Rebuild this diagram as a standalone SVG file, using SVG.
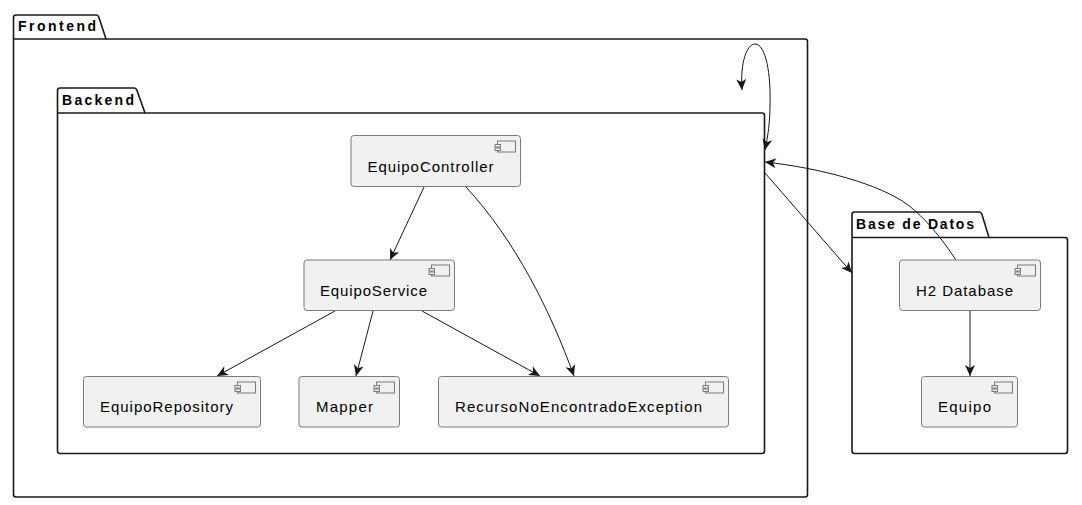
<svg xmlns="http://www.w3.org/2000/svg" width="1082" height="505" viewBox="0 0 1082 505">
<style>
.pkg{fill:#fff;stroke:#181818;stroke-width:1.6}
.pt{font:bold 14px "Liberation Sans",Arial,sans-serif;fill:#000}
.box{fill:#f1f1f1;stroke:#7a7a7a;stroke-width:1}
.ic{fill:#f1f1f1;stroke:#7a7a7a;stroke-width:1}
.t{font:15px "Liberation Sans",Arial,sans-serif;fill:#000}
.c{fill:none;stroke:#181818;stroke-width:1}
</style>
<defs>
<marker id="a" markerUnits="userSpaceOnUse" markerWidth="14" markerHeight="12" refX="11" refY="5" orient="auto" overflow="visible"><path d="M0,0L11,5L0,10L3,5Z" fill="#181818"/></marker>
<g id="i"><rect class="ic" x="-18" y="-4" width="18" height="11"/><rect class="ic" x="-20.500" y="-0.500" width="5.500" height="2.500"/><rect class="ic" x="-20.500" y="3" width="5.500" height="2.500"/></g>
</defs>
<g id="Frontend">
<path class="pkg" d="M13.500,39V17.500Q13.500,15 16,15H96.500Q98,15 98.800,17L106,39H805Q807.500,39 807.500,41.500V494.500Q807.500,497 805,497H16Q13.500,497 13.500,494.500Z"/>
<path class="pkg" d="M13.500,39H106"/>
<text class="pt" x="18" y="31" textLength="78">Frontend</text>
</g>
<g id="Backend">
<path class="pkg" d="M57.500,113V90.500Q57.500,88 60,88H134.500Q136,88 136.800,90L145,113H762Q764.500,113 764.500,115.500V451Q764.500,453.500 762,453.500H60Q57.500,453.500 57.500,451Z"/>
<path class="pkg" d="M57.500,113H145"/>
<text class="pt" x="62" y="105" textLength="72">Backend</text>
</g>
<g id="BaseDeDatos">
<path class="pkg" d="M852,237.500V214.500Q852,212 854.500,212H979.500Q981,212 981.800,214L989,237.500H1065Q1067.500,237.500 1067.500,240V451Q1067.500,453.500 1065,453.500H854.500Q852,453.500 852,451Z"/>
<path class="pkg" d="M852,237.500H989"/>
<text class="pt" x="856" y="229" textLength="118">Base de Datos</text>
</g>
<g id="connectors">
<path class="c" marker-end="url(#a)" d="M424,187L390,260"/>
<path class="c" marker-end="url(#a)" d="M466,187C515,240 550,310 574,376"/>
<path class="c" marker-end="url(#a)" d="M335,311L217,376"/>
<path class="c" marker-end="url(#a)" d="M373,311L356,376"/>
<path class="c" marker-end="url(#a)" d="M422,311L540,376"/>
<path class="c" marker-end="url(#a)" d="M970,311V376"/>
<path class="c" marker-end="url(#a)" d="M765,173L852,273"/>
<path class="c" marker-end="url(#a)" d="M956,260C940,236 925,218 908,205C880,184 820,168 765,162"/>
<path class="c" marker-end="url(#a)" d="M755,44C766,44 771,75 770,105C770,122 768,136 765,150"/>
<path class="c" marker-end="url(#a)" d="M755,44C747,44 740,62 742,90"/>
</g>
<g id="EquipoController"><rect class="box" x="351" y="135.500" width="169.500" height="51" rx="3"/><use href="#i" x="515.500" y="145"/><text class="t" x="367.500" y="172" textLength="126">EquipoController</text></g>
<g id="EquipoService"><rect class="box" x="304" y="260" width="150.500" height="50.500" rx="3"/><use href="#i" x="449.500" y="269"/><text class="t" x="320" y="296" textLength="107">EquipoService</text></g>
<g id="EquipoRepository"><rect class="box" x="83.500" y="376.500" width="177" height="50.500" rx="3"/><use href="#i" x="255.500" y="386"/><text class="t" x="100" y="412" textLength="133">EquipoRepository</text></g>
<g id="Mapper"><rect class="box" x="299" y="376.500" width="100.500" height="50.500" rx="3"/><use href="#i" x="394.500" y="386"/><text class="t" x="316" y="412" textLength="57">Mapper</text></g>
<g id="RecursoNoEncontradoException"><rect class="box" x="438.500" y="376.500" width="290" height="50.500" rx="3"/><use href="#i" x="723.500" y="386"/><text class="t" x="455" y="412" textLength="247">RecursoNoEncontradoException</text></g>
<g id="H2Database"><rect class="box" x="899.500" y="260" width="141" height="50.500" rx="3"/><use href="#i" x="1035.500" y="269"/><text class="t" x="916" y="296" textLength="97">H2 Database</text></g>
<g id="Equipo"><rect class="box" x="921.500" y="376.500" width="96" height="50.500" rx="3"/><use href="#i" x="1012.500" y="386"/><text class="t" x="938" y="412" textLength="53">Equipo</text></g>
</svg>
